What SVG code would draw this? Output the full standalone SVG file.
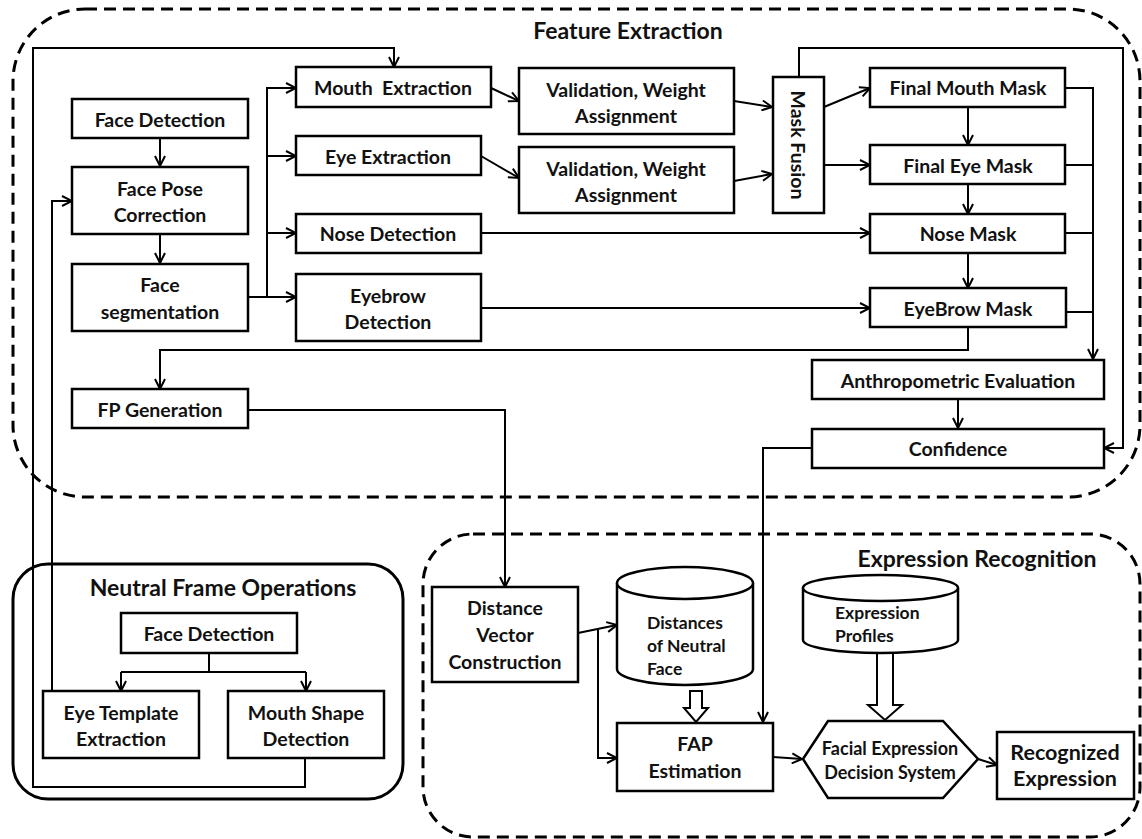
<svg xmlns="http://www.w3.org/2000/svg" width="1142" height="839" viewBox="0 0 1142 839">
<style>
.box{fill:#fff;stroke:#000;stroke-width:2.5}
.grp{fill:none;stroke:#000;stroke-width:3;stroke-dasharray:12 7}
.solidgrp{fill:none;stroke:#000;stroke-width:3}
.ln{fill:none;stroke:#000;stroke-width:2}
.arr{fill:none;stroke:#000;stroke-width:2;marker-end:url(#ah)}
.blk{fill:#fff;stroke:#000;stroke-width:2}
text{font-family:Lato,"Liberation Sans",sans-serif;font-weight:700;fill:#111;font-size:19.5px;text-anchor:middle;dominant-baseline:central}
.t{font-size:23px}
.s{font-size:17.5px}
.h{font-size:18px}
.l{text-anchor:start}
.r{font-size:21.5px}
</style>
<defs>
<marker id="ah" viewBox="0 0 12 12" refX="11" refY="6" markerWidth="12" markerHeight="12" markerUnits="userSpaceOnUse" orient="auto">
<path d="M1,1 L11,6 L1,11" fill="none" stroke="#000" stroke-width="2"/>
</marker>
</defs>

<g id="groups">
<rect class="grp" x="13" y="9" width="1127" height="488" rx="72"/>
<rect class="grp" x="423" y="534" width="717" height="303" rx="50"/>
<rect class="solidgrp" x="13" y="564" width="390" height="235" rx="35"/>
<text class="t" x="628" y="30">Feature Extraction</text>
<text class="t" x="223" y="587">Neutral Frame Operations</text>
<text class="t" x="977" y="558">Expression Recognition</text>
</g>

<g id="connectors">
<path class="arr" d="M305,758 V787 H33 V48 H394 V67"/>
<path class="arr" d="M52,691 V201 H72"/>
<path class="arr" d="M160,138 V166"/>
<path class="arr" d="M160,234 V263"/>
<path class="arr" d="M248,297 H296"/>
<path class="arr" d="M267,297 V88 H296"/>
<path class="arr" d="M267,156 H296"/>
<path class="arr" d="M267,233 H296"/>
<path class="arr" d="M491,88 L519,101"/>
<path class="arr" d="M481,156 L519,178"/>
<path class="arr" d="M734,101 L772,107"/>
<path class="arr" d="M734,181 L772,174"/>
<path class="arr" d="M824,107 L870,88"/>
<path class="arr" d="M824,165 H870"/>
<path class="arr" d="M481,233 H870"/>
<path class="arr" d="M481,308 H870"/>
<path class="arr" d="M968,107 V145"/>
<path class="arr" d="M968,184 V214"/>
<path class="arr" d="M968,253 V288"/>
<path class="arr" d="M1065,88 H1093 V359"/>
<path class="ln" d="M1065,165 H1093 M1065,233 H1093 M1066,312 H1093"/>
<path class="arr" d="M799,77 V48 H1123 V448 H1104"/>
<path class="arr" d="M958,399 V428"/>
<path class="arr" d="M968,327 V350 H160 V389"/>
<path class="arr" d="M248,410 H505 V587"/>
<path class="arr" d="M812,448 H763 V722"/>
<path class="arr" d="M578,633 L617,625"/>
<path class="arr" d="M598,629 V758 H617"/>
<path class="arr" d="M773,757 L802,759"/>
<path class="arr" d="M978,759 L997,765"/>
<path class="ln" d="M209,653 V672 M121,672 H306"/>
<path class="arr" d="M121,672 V691"/>
<path class="arr" d="M306,672 V691"/>
<polygon class="blk" points="690,691 702,691 702,708 708,708 696,722 684,708 690,708"/>
<polygon class="blk" points="877,653 893,653 893,705 902,705 885,720 868,705 877,705"/>
</g>

<g id="n-face-detection"><rect class="box" x="72" y="99" width="176" height="39"/><text x="160" y="119">Face Detection</text></g>
<g id="n-face-pose"><rect class="box" x="72" y="167" width="176" height="67"/><text x="160" y="188">Face Pose</text><text x="160" y="214">Correction</text></g>
<g id="n-face-seg"><rect class="box" x="72" y="264" width="176" height="67"/><text x="160" y="284">Face</text><text x="160" y="311">segmentation</text></g>
<g id="n-fp-gen"><rect class="box" x="72" y="389" width="176" height="39"/><text x="160" y="409">FP Generation</text></g>
<g id="n-mouth-ext"><rect class="box" x="296" y="67" width="195" height="40"/><text x="393" y="87" xml:space="preserve">Mouth  Extraction</text></g>
<g id="n-eye-ext"><rect class="box" x="296" y="136" width="185" height="39"/><text x="388" y="156">Eye Extraction</text></g>
<g id="n-nose-det"><rect class="box" x="296" y="214" width="185" height="39"/><text x="388" y="233">Nose Detection</text></g>
<g id="n-eyebrow-det"><rect class="box" x="296" y="274" width="185" height="67"/><text x="388" y="295">Eyebrow</text><text x="388" y="321">Detection</text></g>
<g id="n-val1"><rect class="box" x="519" y="68" width="215" height="66"/><text x="626" y="89">Validation, Weight</text><text x="626" y="115">Assignment</text></g>
<g id="n-val2"><rect class="box" x="519" y="147" width="215" height="66"/><text x="626" y="168">Validation, Weight</text><text x="626" y="194">Assignment</text></g>
<g id="n-mask-fusion"><rect class="box" x="773" y="77" width="51" height="136"/><text x="798" y="145" transform="rotate(90 798 145)">Mask Fusion</text></g>
<g id="n-final-mouth"><rect class="box" x="870" y="68" width="195" height="39"/><text x="968" y="87">Final Mouth Mask</text></g>
<g id="n-final-eye"><rect class="box" x="870" y="145" width="195" height="39"/><text x="968" y="165">Final Eye Mask</text></g>
<g id="n-nose-mask"><rect class="box" x="870" y="214" width="195" height="39"/><text x="968" y="233">Nose Mask</text></g>
<g id="n-eyebrow-mask"><rect class="box" x="870" y="288" width="196" height="39"/><text x="968" y="308">EyeBrow Mask</text></g>
<g id="n-anthro"><rect class="box" x="812" y="360" width="292" height="39"/><text x="958" y="380">Anthropometric Evaluation</text></g>
<g id="n-confidence"><rect class="box" x="812" y="429" width="292" height="39"/><text x="958" y="448">Confidence</text></g>

<g id="n-nf-face-detection"><rect class="box" x="121" y="613" width="176" height="40"/><text x="209" y="633">Face Detection</text></g>
<g id="n-eye-template"><rect class="box" x="43" y="691" width="156" height="67"/><text x="121" y="712">Eye Template</text><text x="121" y="738">Extraction</text></g>
<g id="n-mouth-shape"><rect class="box" x="228" y="691" width="156" height="67"/><text x="306" y="712">Mouth Shape</text><text x="306" y="738">Detection</text></g>

<g id="n-dvc"><rect class="box" x="432" y="587" width="146" height="95"/><text x="505" y="607">Distance</text><text x="505" y="634">Vector</text><text x="505" y="661">Construction</text></g>
<g id="n-distances"><path class="box" d="M617,583 V669 A68,16 0 0 0 753,669 V583"/><ellipse class="box" cx="685" cy="583" rx="68" ry="16"/><text class="s l" x="647" y="622">Distances</text><text class="s l" x="647" y="645">of Neutral</text><text class="s l" x="647" y="668">Face</text></g>
<g id="n-fap"><rect class="box" x="617" y="723" width="156" height="68"/><text x="695" y="743">FAP</text><text x="695" y="770">Estimation</text></g>
<g id="n-profiles"><path class="box" d="M803,588 V640 A77.5,13 0 0 0 958,640 V588"/><ellipse class="box" cx="880.5" cy="588" rx="77.5" ry="13"/><text class="s l" x="835" y="612">Expression</text><text class="s l" x="835" y="635">Profiles</text></g>
<g id="n-decision"><polygon class="box" points="803,759 828,721 943,721 978,759 943,798 828,798"/><text class="h" x="890" y="748">Facial Expression</text><text class="h" x="890" y="772">Decision System</text></g>
<g id="n-recognized"><rect class="box" x="997" y="732" width="137" height="67"/><text class="r" x="1065" y="752">Recognized</text><text class="r" x="1065" y="778">Expression</text></g>
</svg>
